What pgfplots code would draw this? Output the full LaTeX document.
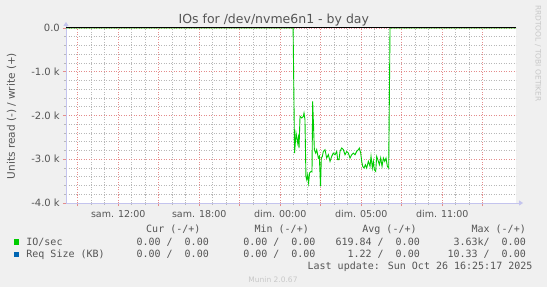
\documentclass[border=0pt]{standalone}
\usepackage{pgfplots}
\pgfplotsset{compat=1.18}
\usepackage{fontspec}
\setmainfont{DejaVu Sans}
\newfontfamily\mono{DejaVu Sans Mono}
\usetikzlibrary{arrows.meta}
\definecolor{bg}{HTML}{F0F0F0}
\definecolor{txt}{HTML}{555555}
\definecolor{mgrid}{HTML}{E48C8C}
\definecolor{ngrid}{HTML}{B8B8B8}
\definecolor{axc}{HTML}{C4C4EE}
\definecolor{iogreen}{HTML}{00CC00}
\definecolor{reqblue}{HTML}{0066B3}
\definecolor{faint}{HTML}{C8C8C8}
\begin{document}
\begin{tikzpicture}[x=1pt,y=1pt]
\fill[bg] (0,0) rectangle (547,287);
\begin{axis}[
  scale only axis, width=450pt, height=175pt,
  at={(66pt,84pt)}, anchor=south west,
  xmin=8.13, xmax=41.46, ymin=-4000, ymax=0,
  axis background/.style={fill=white},
  clip=false,
  axis x line=bottom, axis y line=left,
  x axis line style={draw=axc, -{Triangle[width=5pt,length=4pt]}, shorten >=-7pt},
  y axis line style={draw=axc, -{Triangle[width=5pt,length=4pt]}, shorten >=-6pt},
  xtick={9,12,...,39},
  xticklabels={,sam. 12:00,,sam. 18:00,,dim. 00:00,,dim. 05:00,,dim. 11:00,},
  minor x tick num=2,
  ytick={-4000,-3000,-2000,-1000,0},
  yticklabels={-4.0 k,-3.0 k,-2.0 k,-1.0 k,0.0},
  minor y tick num=4,
  scaled y ticks=false,
  tick align=outside,
  major tick length=3pt, minor tick length=2pt,
  major tick style={draw=mgrid, line width=0.9pt},
  minor tick style={draw=ngrid, line width=0.9pt},
  grid=both,
  major grid style={draw=mgrid, line width=0.9pt, dash pattern=on 1pt off 1.5pt},
  minor grid style={draw=ngrid, line width=0.9pt, dash pattern=on 1pt off 1.5pt},
  xticklabel style={font=\fontsize{9.5}{10}\selectfont, text=txt, anchor=base, inner sep=0pt, yshift=-11pt},
  yticklabel style={font=\fontsize{10}{11}\selectfont, text=txt, anchor=east, inner sep=0pt, xshift=-3pt},
]
\addplot[iogreen, line width=0.9pt] coordinates {
(8.13,0) (24.95,0) (25.06,-2858) (25.167,-2401) (25.29,-2629) (25.34,-2515) (25.389,-2744)
(25.463,-2020) (25.587,-2058) (25.71,-2020) (25.759,-1944) (25.83,-2096) (25.90,-3391)
(25.96,-3467) (26.03,-3353) (26.10,-3544) (26.17,-3315) (26.28,-3277) (26.35,-3290)
(26.40,-1677) (26.525,-2782) (26.624,-2858) (26.698,-2782) (26.821,-2972) (26.895,-2934)
(26.98,-3620) (27.04,-2972) (27.117,-2934) (27.191,-2820) (27.315,-2782) (27.438,-2972)
(27.562,-2896) (27.685,-3048) (27.809,-2934) (27.932,-2858) (28.056,-2896) (28.179,-2820)
(28.253,-3010) (28.352,-3010)
(28.426,-2820) (28.549,-2744) (28.673,-2782) (28.796,-2896) (28.92,-2820) (29.043,-2858)
(29.167,-2972) (29.29,-2896) (29.414,-2858) (29.537,-2896) (29.66,-2820) (29.784,-2782)
(29.858,-2744) (29.957,-2858) (30.031,-3048) (30.105,-3163) (30.204,-3201) (30.302,-3125)
(30.401,-3201) (30.525,-3048) (30.648,-3163) (30.722,-2934) (30.821,-3201) (30.895,-3048)
(30.969,-3239) (31.068,-3277) (31.142,-2934) (31.265,-3048) (31.34,-3125) (31.438,-2972)
(31.537,-3163) (31.636,-2972) (31.735,-3048) (31.833,-2972) (31.932,-3163) (32.031,-3201)
(32.13,0) (41.46,0)
};
\addplot[black, line width=1pt] coordinates {(8.13,0) (41.46,0)};
\end{axis}
\node[anchor=base, text=txt, font=\fontsize{12.5}{14}\selectfont, inner sep=0pt] at (273.8,263.5) {IOs for /dev/nvme6n1 - by day};
\node[rotate=90, text=txt, font=\fontsize{10.5}{12}\selectfont, inner sep=0pt] at (11.5,171) {Units read (-) / write (+)};
\node[rotate=-90, anchor=west, text=faint, font=\fontsize{7.5}{8}\selectfont, inner sep=0pt] at (538,282) {RRDTOOL / TOBI OETIKER};
\begin{scope}[every node/.style={inner sep=0pt, text=txt, font=\mono\fontsize{10}{12}\selectfont}]
\node[anchor=base east] at (200.6,55) {Cur (-/+)};
\node[anchor=base east] at (309,55) {Min (-/+)};
\node[anchor=base east] at (416.8,55) {Avg (-/+)};
\node[anchor=base east] at (526,55) {Max (-/+)};
\fill[iogreen] (14,42.4) rectangle (19.2,48);
\node[anchor=base west] at (26.2,41.5) {IO/sec};
\node[anchor=base east] at (209,41.5) {0.00 /~~0.00};
\node[anchor=base east] at (315.7,41.5) {0.00 /~~0.00};
\node[anchor=base east] at (420,41.5) {619.84 /~~0.00};
\node[anchor=base east] at (526,41.5) {3.63k/~~0.00};
\fill[reqblue] (14,30.1) rectangle (19.2,35.4);
\node[anchor=base west] at (26.2,29.4) {Req Size (KB)};
\node[anchor=base east] at (209,29.4) {0.00 /~~0.00};
\node[anchor=base east] at (315.7,29.4) {0.00 /~~0.00};
\node[anchor=base east] at (420,29.4) {1.22 /~~0.00};
\node[anchor=base east] at (526,29.4) {10.33 /~~0.00};
\node[anchor=base east] at (532.6,17) {Last update: Sun Oct 26 16:25:17 2025};
\end{scope}
\node[anchor=base, inner sep=0pt, text=faint, font=\fontsize{7.5}{8}\selectfont] at (273,5) {Munin 2.0.67};
\end{tikzpicture}
\end{document}
